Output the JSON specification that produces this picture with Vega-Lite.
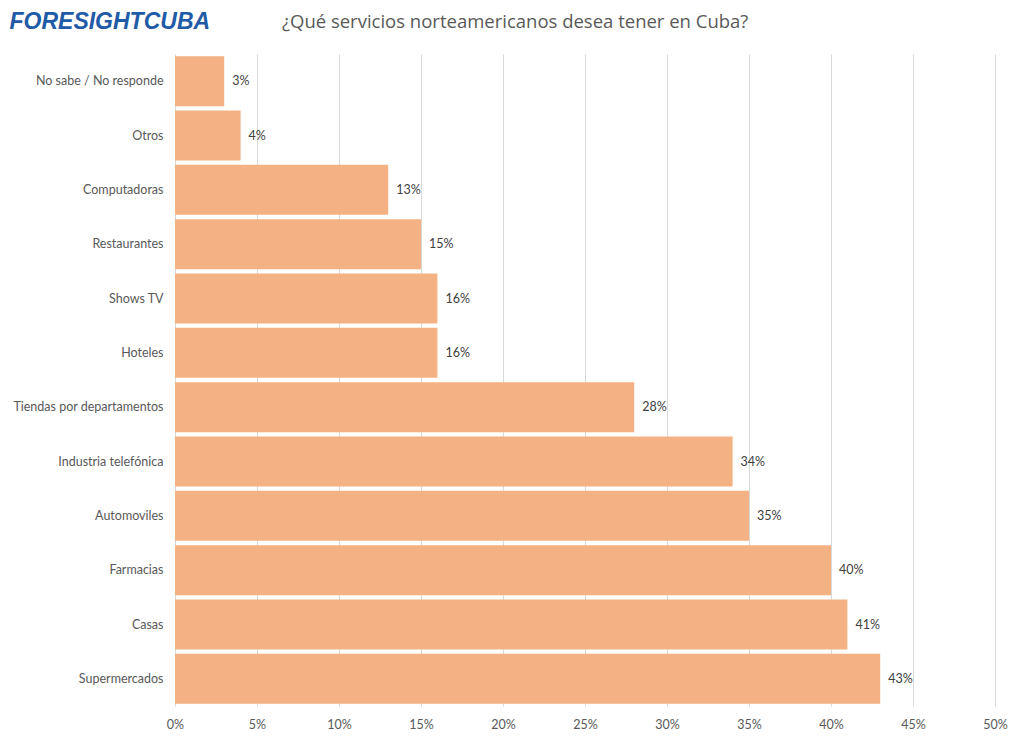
{
  "$schema": "https://vega.github.io/schema/vega-lite/v6.json",
  "autosize": {"type": "none"},
  "padding": {"left": 175, "top": 54, "right": 29, "bottom": 36},
  "width": 820,
  "height": 652,
  "background": "white",
  "title": {
    "text": "¿Qué servicios norteamericanos desea tener en Cuba?",
    "anchor": "start",
    "frame": "group",
    "dx": 107,
    "offset": -21,
    "font": "Open Sans",
    "fontSize": 18.5,
    "fontWeight": "normal",
    "color": "#595959"
  },
  "data": {
    "values": [
      {"servicio": "No sabe / No responde", "pct": 0.03},
      {"servicio": "Otros", "pct": 0.04},
      {"servicio": "Computadoras", "pct": 0.13},
      {"servicio": "Restaurantes", "pct": 0.15},
      {"servicio": "Shows TV", "pct": 0.16},
      {"servicio": "Hoteles", "pct": 0.16},
      {"servicio": "Tiendas por departamentos", "pct": 0.28},
      {"servicio": "Industria telefónica", "pct": 0.34},
      {"servicio": "Automoviles", "pct": 0.35},
      {"servicio": "Farmacias", "pct": 0.40},
      {"servicio": "Casas", "pct": 0.41},
      {"servicio": "Supermercados", "pct": 0.43}
    ]
  },
  "encoding": {
    "y": {
      "field": "servicio",
      "type": "nominal",
      "sort": ["No sabe / No responde", "Otros", "Computadoras", "Restaurantes", "Shows TV", "Hoteles", "Tiendas por departamentos", "Industria telefónica", "Automoviles", "Farmacias", "Casas", "Supermercados"],
      "scale": {"paddingInner": 0.08, "paddingOuter": 0.04},
      "axis": {
        "title": "FORESIGHTCUBA",
        "titleAngle": 0,
        "titleAlign": "left",
        "titleBaseline": "alphabetic",
        "titleX": -166,
        "titleY": -26,
        "titleFont": "Liberation Sans",
        "titleFontSize": 23,
        "titleFontStyle": "italic",
        "titleFontWeight": "bold",
        "titleColor": "#1F5BA6",
        "domain": false,
        "ticks": false,
        "grid": false,
        "labelPadding": 12,
        "labelFont": "Lato",
        "labelFontSize": 12.5,
        "labelColor": "#595959"
      }
    },
    "x": {
      "field": "pct",
      "type": "quantitative",
      "scale": {"domain": [0, 0.5], "nice": false},
      "axis": {
        "title": null,
        "format": ".0%",
        "values": [0, 0.05, 0.1, 0.15, 0.2, 0.25, 0.3, 0.35, 0.4, 0.45, 0.5],
        "labelFlush": false,
        "domain": false,
        "ticks": false,
        "grid": true,
        "gridColor": "#d9d9d9",
        "gridWidth": 1,
        "labelPadding": 12,
        "labelFont": "Lato",
        "labelFontSize": 12.5,
        "labelColor": "#595959"
      }
    }
  },
  "layer": [
    {
      "mark": {"type": "bar", "color": "#F4B183"}
    },
    {
      "mark": {"type": "text", "align": "left", "baseline": "middle", "dx": 8, "font": "Lato", "fontSize": 12.5, "color": "#404040"},
      "encoding": {
        "text": {"field": "pct", "type": "quantitative", "format": ".0%"}
      }
    }
  ],
  "config": {
    "view": {"stroke": null}
  }
}
